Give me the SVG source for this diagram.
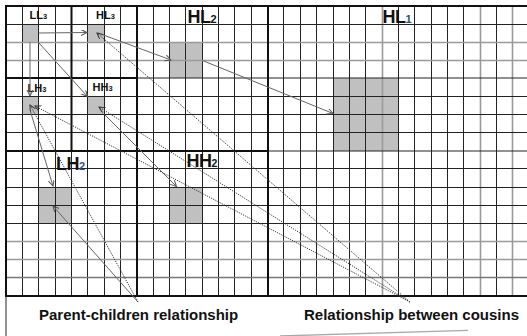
<svg xmlns="http://www.w3.org/2000/svg" width="527" height="336" viewBox="0 0 527 336">
<style>
.thin{stroke:#222;stroke-width:1;fill:none}
.gray{stroke:#9a9a9a;stroke-width:1.6;fill:none}
.mid{stroke:#777;stroke-width:1.3;fill:none}
.thick{stroke:#111;stroke-width:2;fill:none}
.cell{fill:#c0c0c0}
.lbl{font-family:"Liberation Sans",Arial,sans-serif;fill:#111}
.small{font-size:11px;font-weight:bold}
.big{font-size:18px;font-weight:bold;letter-spacing:-0.5px}
.cap{font-family:"Liberation Sans",Arial,sans-serif;font-size:15px;font-weight:bold;fill:#111}
.solid{stroke:#666;stroke-width:1;fill:none}
.dot{stroke:#333;stroke-width:1;fill:none;stroke-dasharray:1.2 1.2}
</style>
<defs>
<marker id="ah" markerUnits="userSpaceOnUse" markerWidth="8" markerHeight="8" refX="6" refY="3" orient="auto">
<path d="M0,0 L6,3 L0,6" fill="none" stroke="#555" stroke-width="1"/>
</marker>
<marker id="ahd" markerUnits="userSpaceOnUse" markerWidth="8" markerHeight="8" refX="6" refY="3" orient="auto">
<path d="M0,0 L6,3 L0,6" fill="none" stroke="#333" stroke-width="1"/>
</marker>
</defs>
<rect width="527" height="336" fill="#fff"/>

<g id="LL3"><rect class="cell" x="22.5" y="24.5" width="16" height="18"/></g>
<g id="HL3"><rect class="cell" x="87.5" y="24.5" width="17" height="18"/></g>
<g id="LH3"><rect class="cell" x="22.5" y="96.5" width="16" height="18"/></g>
<g id="HH3"><rect class="cell" x="87.5" y="96.5" width="17" height="18"/></g>
<g id="HL2"><rect class="cell" x="169.5" y="42.5" width="33" height="35.5"/></g>
<g id="LH2"><rect class="cell" x="38.5" y="187.5" width="33" height="36"/></g>
<g id="HH2"><rect class="cell" x="169.5" y="187.5" width="33" height="36"/></g>
<g id="HL1"><rect class="cell" x="333.5" y="78" width="65" height="73"/></g>

<g id="grid">
<path class="thin" d="M22.5,6V296M38.5,6V296M55.5,6V296M71.5,151V296M87.5,6V296M104.5,6V296M120.5,6V296M153.5,6V296M169.5,6V296M185.5,6V296M202.5,6V296M218.5,6V296M234.5,6V296M251.5,6V296M283.5,6V296M300.5,6V296M316.5,6V296M333.5,6V296M349.5,6V296M365.5,6V296M398.5,6V296M414.5,6V296M431.5,6V296M447.5,6V296M463.5,6V296M496.5,6V296"/>
<path class="gray" d="M382.5,6V296M480.5,6V296M512.5,6V296"/>
<path class="thin" d="M6,24.5H527M137,78H527M6,96.5H527M6,114.5H527M6,132.5H527M268,151H527M6,168.5H527M6,187.5H527M6,205.5H527M6,223.5H527"/>
<path class="gray" d="M6,42.5H527M6,60.5H527M6,241.5H527M6,259.5H527"/>
<path class="mid" d="M6,277.5H527"/>
<path class="thick" d="M5,6H527M5,296H527M6,6V296M71.5,6V151M137,6V296M268,6V296M6,78H137M6,151H268"/>
<path class="thin" d="M6,296V336"/>
<path d="M280,336 Q370,333 468,330.3" stroke="#a8a8a8" stroke-width="1.3" fill="none"/>
</g>

<g id="labels">
<text class="lbl small" x="29.5" y="19.3">LL<tspan font-size="7.5">3</tspan></text>
<text class="lbl small" x="96" y="19.3">HL<tspan font-size="7.5">3</tspan></text>
<text class="lbl small" x="27.5" y="91.7">LH<tspan font-size="7.5">3</tspan></text>
<text class="lbl small" x="92.5" y="91.3">HH<tspan font-size="7.5">3</tspan></text>
<text class="lbl big" x="187.5" y="23.3">HL<tspan font-size="11">2</tspan></text>
<text class="lbl big" x="382.5" y="23.3">HL<tspan font-size="11" fill="#2f4f7f">1</tspan></text>
<text class="lbl big" x="56" y="170">LH<tspan font-size="11" fill="#2f4f7f">2</tspan></text>
<text class="lbl big" font-size="17" x="186.5" y="167.3">HH<tspan font-size="10.5">2</tspan></text>
</g>

<g id="connectors">
<path class="solid" marker-end="url(#ah)" d="M38.5,33 L87,32.5"/>
<path class="solid" marker-end="url(#ah)" d="M30,42.5 L30,96"/>
<path class="solid" marker-end="url(#ah)" d="M38.5,42.5 L87.5,96.5"/>
<path class="solid" marker-end="url(#ah)" d="M98,33 L171,60"/>
<path class="solid" marker-end="url(#ah)" d="M202.5,60.5 L333,113.5"/>
<path class="solid" marker-end="url(#ah)" d="M30,110 L53,186"/>
<path class="solid" marker-end="url(#ah)" d="M104.5,114.5 L176.5,186.5"/>
<path class="solid" marker-end="url(#ah)" d="M138,302 L53,206"/>
<path class="dot" marker-end="url(#ahd)" d="M138,302 L30,105"/>
<path class="dot" marker-end="url(#ahd)" d="M410,302 L35,106"/>
<path class="dot" marker-end="url(#ahd)" d="M410,302 L99,107"/>
<path class="dot" marker-end="url(#ahd)" d="M410,302 L97,33"/>
</g>

<g id="captions">
<text class="cap" x="39" y="319.5">Parent-children relationship</text>
<text class="cap" x="304" y="319.5">Relationship between cousins</text>
</g>
</svg>
